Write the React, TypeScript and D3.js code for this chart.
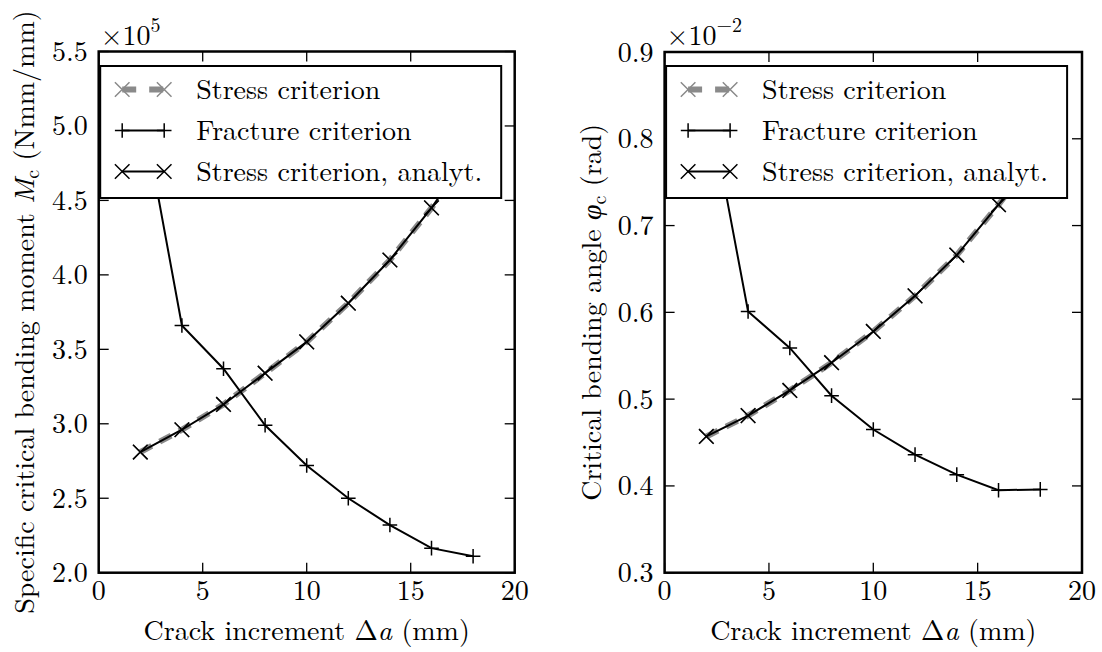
import React from "react";
import * as d3 from "d3";

// crack increment (mm)
const crackIncrement = [2, 4, 6, 8, 10, 12, 14, 16, 18];

// specific critical bending moment (x 1e5 Nmm/mm)
const momentStress = [2.81, 2.96, 3.13, 3.34, 3.55, 3.81, 4.1, 4.45, 4.85];
const momentFracture = [5.18, 3.66, 3.37, 2.99, 2.72, 2.5, 2.32, 2.165, 2.11];
const momentStressAnalyt = [2.81, 2.96, 3.13, 3.34, 3.55, 3.81, 4.1, 4.45, 4.85];

// critical bending angle (x 1e-2 rad)
const angleStress = [0.457, 0.481, 0.51, 0.542, 0.578, 0.619, 0.666, 0.724, 0.789];
const angleFracture = [0.857, 0.601, 0.559, 0.504, 0.465, 0.436, 0.413, 0.395, 0.396];
const angleStressAnalyt = [0.457, 0.481, 0.51, 0.542, 0.578, 0.619, 0.666, 0.724, 0.789];

const xTicks = [0, 5, 10, 15, 20];
const momentTicks = [2.0, 2.5, 3.0, 3.5, 4.0, 4.5, 5.0, 5.5];
const angleTicks = [0.3, 0.4, 0.5, 0.6, 0.7, 0.8, 0.9];

const legendLabels = ["Stress criterion", "Fracture criterion", "Stress criterion, analyt."];

const FONT = "Latin Modern Roman";
const tf = { fontFamily: FONT };
const GRAY = "#8a8a8a";
const DASH = "13 9";

const Marker = ({ type, x, y, color = "black" }) => {
  const r = 7.3;
  const d =
    type === "+"
      ? `M${x - r},${y}H${x + r}M${x},${y - r}V${y + r}`
      : `M${x - r},${y - r}L${x + r},${y + r}M${x - r},${y + r}L${x + r},${y - r}`;
  return <path d={d} stroke={color} strokeWidth={1.5} fill="none" />;
};

const Panel = ({ left, right, top, bottom, yDomain, yTicks, stress, fracture, analyt, exponent, yLabel, yLabelX }) => {
  const x = d3.scaleLinear().domain([0, 20]).range([left, right]);
  const y = d3.scaleLinear().domain(yDomain).range([bottom, top]);
  const line = d3
    .line<number>()
    .x((_, i) => x(crackIncrement[i]))
    .y((d) => y(d));

  const lgX = left + 1.5;
  const lgY = 66;
  const rows = [89.5, 130.5, 171.5];
  const h0 = lgX + 22;
  const h1 = lgX + 64;

  return (
    <g>
      {/* ticks, inward on all four sides */}
      {xTicks.map((t) => (
        <g key={"x" + t}>
          <line x1={x(t)} x2={x(t)} y1={bottom} y2={bottom - 10} stroke="black" strokeWidth={1.3} />
          <line x1={x(t)} x2={x(t)} y1={top} y2={top + 10} stroke="black" strokeWidth={1.3} />
          <text x={x(t)} y={600} textAnchor="middle" fontSize={28} style={tf}>
            {t}
          </text>
        </g>
      ))}
      {yTicks.map((t) => (
        <g key={"y" + t}>
          <line x1={left} x2={left + 10} y1={y(t)} y2={y(t)} stroke="black" strokeWidth={1.3} />
          <line x1={right} x2={right - 10} y1={y(t)} y2={y(t)} stroke="black" strokeWidth={1.3} />
          <text x={left - 11} y={y(t) + 9.5} textAnchor="end" fontSize={28} style={tf}>
            {d3.format(".1f")(t)}
          </text>
        </g>
      ))}

      {/* series */}
      <path d={line(stress)} fill="none" stroke={GRAY} strokeWidth={6} strokeDasharray={DASH} />
      {stress.map((v, i) => (
        <Marker key={"s" + i} type="x" x={x(crackIncrement[i])} y={y(v)} color={GRAY} />
      ))}
      <path d={line(fracture)} fill="none" stroke="black" strokeWidth={2} />
      {fracture.map((v, i) => (
        <Marker key={"f" + i} type="+" x={x(crackIncrement[i])} y={y(v)} />
      ))}
      <path d={line(analyt)} fill="none" stroke="black" strokeWidth={2} />
      {analyt.map((v, i) => (
        <Marker key={"a" + i} type="x" x={x(crackIncrement[i])} y={y(v)} />
      ))}

      {/* frame */}
      <rect x={left} y={top} width={right - left} height={bottom - top} fill="none" stroke="black" strokeWidth={2.5} />

      {/* offset text */}
      <text x={left + 2} y={45} fontSize={28} style={tf}>
        ×10
        <tspan fontSize={20} dy={-13}>
          {exponent}
        </tspan>
      </text>

      {/* legend */}
      <rect x={lgX} y={lgY} width={401} height={132} fill="white" stroke="black" strokeWidth={2} />
      <line x1={h0} x2={h1} y1={rows[0]} y2={rows[0]} stroke={GRAY} strokeWidth={6} strokeDasharray="14 13" />
      <Marker type="x" x={h0} y={rows[0]} color={GRAY} />
      <Marker type="x" x={h1} y={rows[0]} color={GRAY} />
      <line x1={h0} x2={h1} y1={rows[1]} y2={rows[1]} stroke="black" strokeWidth={2} />
      <Marker type="+" x={h0} y={rows[1]} />
      <Marker type="+" x={h1} y={rows[1]} />
      <line x1={h0} x2={h1} y1={rows[2]} y2={rows[2]} stroke="black" strokeWidth={2} />
      <Marker type="x" x={h0} y={rows[2]} />
      <Marker type="x" x={h1} y={rows[2]} />
      {legendLabels.map((l, i) => (
        <text key={l} x={lgX + 96} y={rows[i] + 9.5} fontSize={28} style={tf}>
          {l}
        </text>
      ))}

      {/* axis titles */}
      <text x={(left + right) / 2} y={640} textAnchor="middle" fontSize={28} style={tf}>
        Crack increment Δ<tspan fontStyle="italic">a</tspan> (mm)
      </text>
      <text
        transform={`translate(${yLabelX},${(top + bottom) / 2}) rotate(-90)`}
        textAnchor="middle"
        fontSize={28}
        style={tf}
      >
        {yLabel}
      </text>
    </g>
  );
};

export default function App() {
  return (
    <svg width={1102} height={652} style={{ position: "absolute", left: 0, top: 0, background: "white" }}>
      <Panel
        left={98.7}
        right={514.7}
        top={51.5}
        bottom={572.7}
        yDomain={[2, 5.5]}
        yTicks={momentTicks}
        stress={momentStress}
        fracture={momentFracture}
        analyt={momentStressAnalyt}
        exponent="5"
        yLabelX={34}
        yLabel={
          <>
            Specific critical bending moment <tspan fontStyle="italic">M</tspan>
            <tspan fontSize={20} dy={5}>c</tspan>
            <tspan dy={-5}> (Nmm/mm)</tspan>
          </>
        }
      />
      <Panel
        left={664.6}
        right={1082}
        top={52}
        bottom={572.7}
        yDomain={[0.3, 0.9]}
        yTicks={angleTicks}
        stress={angleStress}
        fracture={angleFracture}
        analyt={angleStressAnalyt}
        exponent="−2"
        yLabelX={601}
        yLabel={
          <>
            Critical bending angle <tspan fontStyle="italic">φ</tspan>
            <tspan fontSize={20} dy={5}>c</tspan>
            <tspan dy={-5}> (rad)</tspan>
          </>
        }
      />
    </svg>
  );
}
